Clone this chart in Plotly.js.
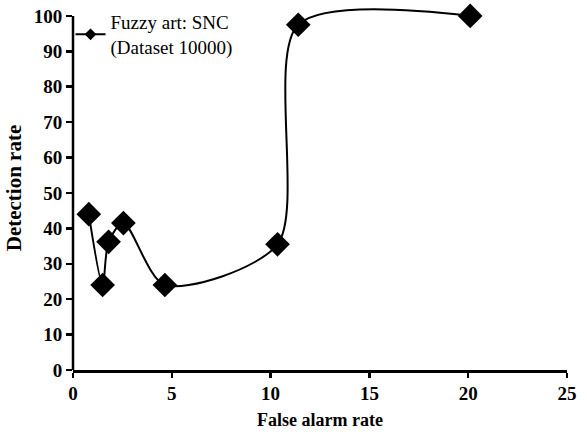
<!DOCTYPE html>
<html>
<head>
<meta charset="utf-8">
<script src="https://cdn.plot.ly/plotly-3.0.1.min.js"></script>
<style>html,body{margin:0;padding:0;background:#fff;}#chart{width:587px;height:435px;}</style>
</head>
<body>
<div id="chart"></div>
<script>
const falseAlarm = [0.8, 1.5, 1.8, 2.55, 4.65, 10.35, 11.4, 20.1];
const detection = [44, 24, 36.2, 41.5, 24, 35.5, 97.5, 100];
const seriesName = "Fuzzy art: SNC<br>(Dataset 10000)";
const xTicks = [0, 5, 10, 15, 20, 25];
const yTicks = [0, 10, 20, 30, 40, 50, 60, 70, 80, 90, 100];

const fam = "Liberation Serif, Times New Roman, serif";

const traces = [
  {
    x: falseAlarm, y: detection, mode: "lines+markers", type: "scatter",
    line: {shape: "spline", smoothing: 0.8, color: "#000", width: 2},
    marker: {symbol: "diamond", size: 19, color: "#000"},
    showlegend: false, cliponaxis: false
  },
  {
    x: [null], y: [null], mode: "lines+markers", type: "scatter", name: seriesName,
    line: {color: "#000", width: 2},
    marker: {symbol: "diamond", size: 9, color: "#000"},
    showlegend: true
  }
];

const layout = {
  width: 587, height: 435,
  margin: {l: 73, r: 20, t: 6, b: 65, autoexpand: false},
  paper_bgcolor: "#fff", plot_bgcolor: "#fff",
  font: {family: fam, color: "#000", size: 16},
  showlegend: true,
  legend: {x: -0.005, y: 1.008, xanchor: "left", yanchor: "top", bgcolor: "rgba(0,0,0,0)",
           font: {family: fam, size: 19, color: "#000"}, tracegroupgap: 0},
  shapes: [
    {type: "line", xref: "paper", yref: "y", x0: 0, x1: 0, y0: 0, y1: 100,
     line: {color: "#000", width: 2.5}}
  ],
  xaxis: {
    range: [0, 25], tickvals: xTicks, ticktext: xTicks.map(String),
    showline: true, linecolor: "#000", linewidth: 2.5, ticks: "outside", ticklen: 5, tickwidth: 2.5, tickcolor: "#000",
    showgrid: false, zeroline: false,
    tickfont: {family: fam, size: 19, color: "#000", weight: "bold"},
    title: {text: "False alarm rate", font: {family: fam, size: 18, color: "#000", weight: "bold"}, standoff: 10}
  },
  yaxis: {
    range: [0, 102.8], tickvals: yTicks, ticktext: yTicks.map(String),
    showline: false, ticks: "outside", ticklen: 6, tickwidth: 2.5, tickcolor: "#000",
    showgrid: false, zeroline: false,
    tickfont: {family: fam, size: 19, color: "#000", weight: "bold"},
    title: {text: "Detection rate", font: {family: fam, size: 21, color: "#000", weight: "bold"}, standoff: 6}
  }
};

Plotly.newPlot("chart", traces, layout, {displayModeBar: false, staticPlot: true});
</script>
</body>
</html>
